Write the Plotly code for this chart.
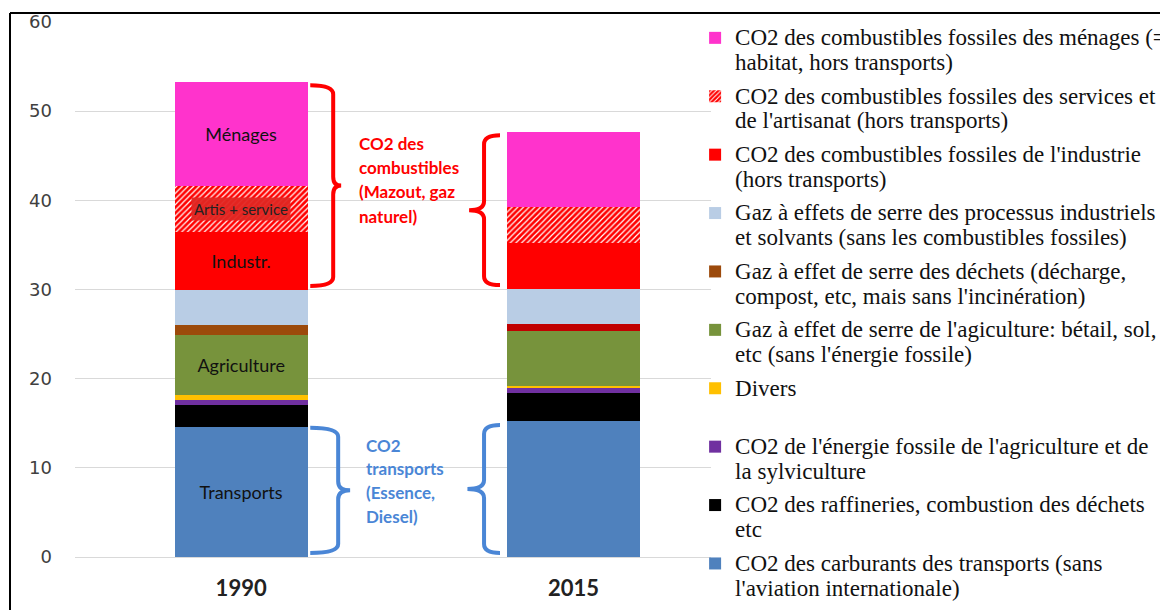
import plotly.graph_objects as go

# ---------------- data ----------------
years = ["1990", "2015"]
xpos = [0, 1]

# stacked bottom -> top (Mio t CO2-eq)
transports = [14.6, 15.2]
raffineries = [2.4, 3.2]
energie_agri = [0.6, 0.5]
divers = [0.6, 0.3]
agriculture = [6.7, 6.2]
dechets = [1.1, 0.7]
processus = [4.0, 4.0]
industrie = [6.4, 5.1]
services = [5.2, 4.0]
menages = [11.7, 8.5]

legend_lines = [
    ["CO2 des carburants des transports (sans", "l'aviation internationale)"],
    ["CO2 des raffineries, combustion des déchets", "etc"],
    ["CO2 de l'énergie fossile de l'agriculture et de", "la sylviculture"],
    ["Divers", "&nbsp;"],
    ["Gaz à effet de serre de l'agiculture: bétail, sol,", "etc (sans l'énergie fossile)"],
    ["Gaz à effet de serre des déchets (décharge,", "compost, etc, mais sans l'incinération)"],
    ["Gaz à effets de serre des processus industriels", "et solvants (sans les combustibles fossiles)"],
    ["CO2 des combustibles fossiles de l'industrie", "(hors transports)"],
    ["CO2 des combustibles fossiles des services et", "de l'artisanat (hors transports)"],
    ["CO2 des combustibles fossiles des ménages (=", "habitat, hors transports)"],
]
series = [transports, raffineries, energie_agri, divers, agriculture,
          dechets, processus, industrie, services, menages]
colors = ["#4F81BD", "#000000", "#7030A0", "#FFC000", "#77933C",
          ["#9C4A0B", "#C00000"], "#B9CDE5", "#FF0000", "#FF0000", "#FF33CC"]
bar_labels = [["Transports", ""], ["", ""], ["", ""], ["", ""], ["Agriculture", ""],
              ["", ""], ["", ""], ["Industr.", ""], ["", ""], ["Ménages", ""]]

def legend_name(lines):
    return "<br>".join(f"<span style='font-size:23px'>{l}</span>" for l in lines)

fig = go.Figure()
n = len(series)
for i, (vals, lines, col, lab) in enumerate(zip(series, legend_lines, colors, bar_labels)):
    marker = dict(color=col, line=dict(width=0))
    if i == 8:
        marker["pattern"] = dict(shape="/", bgcolor="#FF0000", fgcolor="#FFFFFF",
                                 size=4, solidity=0.3, fillmode="replace")
    fig.add_trace(go.Bar(
        x=xpos, y=vals, name=legend_name(lines), legendgroup=f"g{i}",
        legendrank=1000 + (n - i),
        marker=marker, width=0.4,
        text=lab, textposition="inside", insidetextanchor="middle",
        textangle=0, constraintext="none",
        insidetextfont=dict(family="Lato", size=18, color="#111111"),
        hoverinfo="y",
    ))

# cumulative tops
def cum(upto):
    return [sum(s[j] for s in series[:upto]) for j in range(2)]

tot = cum(10)
proc_top = cum(7)
ind_top = cum(8)
serv_top = cum(9)
trans_top = cum(1)

# Artis + service label
fig.add_annotation(x=0, y=(ind_top[0] + serv_top[0]) / 2, text="Artis + service",
                   showarrow=False, font=dict(family="Lato", size=15, color="#222222"),
                   bgcolor="rgba(226,38,34,0.95)", borderpad=2)

# braces
def brace(xh, xv, xt, y0, y1, ry=1.0):
    ym = (y0 + y1) / 2
    return (f"M {xh},{y1} Q {xv},{y1} {xv},{y1-ry} L {xv},{ym+ry} "
            f"Q {xv},{ym} {xt},{ym} Q {xv},{ym} {xv},{ym-ry} "
            f"L {xv},{y0+ry} Q {xv},{y0} {xh},{y0}")

inset = 0.4
red = "#FF0000"
blue = "#4A86D6"
fig.add_shape(type="path", xref="x", yref="y",
              path=brace(0.208, 0.277, 0.301, proc_top[0] + inset, tot[0] - inset),
              line=dict(color=red, width=4))
fig.add_shape(type="path", xref="x", yref="y",
              path=brace(0.779, 0.731, 0.686, proc_top[1] + inset, tot[1] - inset),
              line=dict(color=red, width=4))
fig.add_shape(type="path", xref="x", yref="y",
              path=brace(0.208, 0.292, 0.328, 0.45, trans_top[0] - 0.1),
              line=dict(color=blue, width=4))
fig.add_shape(type="path", xref="x", yref="y",
              path=brace(0.779, 0.731, 0.681, 0.45, trans_top[1] - 0.4),
              line=dict(color=blue, width=4))

red_lines = ["CO2 des", "combustibles", "(Mazout, gaz", "naturel)"]
for k, t in enumerate(red_lines):
    fig.add_annotation(x=0.349, y=46.43 - k * 2.73, text=t, showarrow=False,
                       xanchor="left", yanchor="middle",
                       font=dict(family="Lato", size=17, color=red, weight="bold"))
blue_lines = ["CO2", "transports", "(Essence,", "Diesel)"]
for k, t in enumerate(blue_lines):
    fig.add_annotation(x=0.370, y=12.56 - k * 2.69, text=t, showarrow=False,
                       xanchor="left", yanchor="middle",
                       font=dict(family="Lato", size=17, color=blue, weight="bold"))

# frame lines (left and top)
fig.add_shape(type="line", xref="paper", yref="paper", x0=-0.1022, x1=-0.1022, y0=-1, y1=1.0168,
              line=dict(color="black", width=2))
fig.add_shape(type="line", xref="paper", yref="paper", x0=-0.1022, x1=2, y0=1.0168, y1=1.0168,
              line=dict(color="black", width=2))

fig.update_layout(
    width=1160, height=610,
    barmode="stack",
    plot_bgcolor="white", paper_bgcolor="white",
    margin=dict(l=75, r=449, t=22, b=53, autoexpand=False),
    showlegend=True,
    legend=dict(
        x=0.975, y=1.0056, xanchor="left", yanchor="top",
        traceorder="grouped", valign="top", tracegroupgap=6,
        font=dict(family="Times New Roman, Liberation Serif, serif", size=19, color="#111111"),
        bgcolor="rgba(0,0,0,0)", itemwidth=30, maxheight=700,
    ),
    xaxis=dict(range=[-0.5, 1.414], tickvals=xpos, ticktext=years,
               showgrid=False, zeroline=False, showline=False, ticks="",
               ticklabelstandoff=16,
               tickfont=dict(family="Lato", size=22, color="#222222", weight="bold")),
    yaxis=dict(range=[0, 60], dtick=10, showgrid=True, gridcolor="#D9D9D9", gridwidth=1,
               zeroline=True, zerolinecolor="#D9D9D9", zerolinewidth=1,
               showline=False, ticks="", ticklabelstandoff=22,
               tickfont=dict(family="DejaVu Sans", size=18, color="#404040")),
)

fig.write_html("out.html", config={"displayModeBar": False},
               post_script="document.body.style.margin='0';document.body.style.overflow='hidden';")
